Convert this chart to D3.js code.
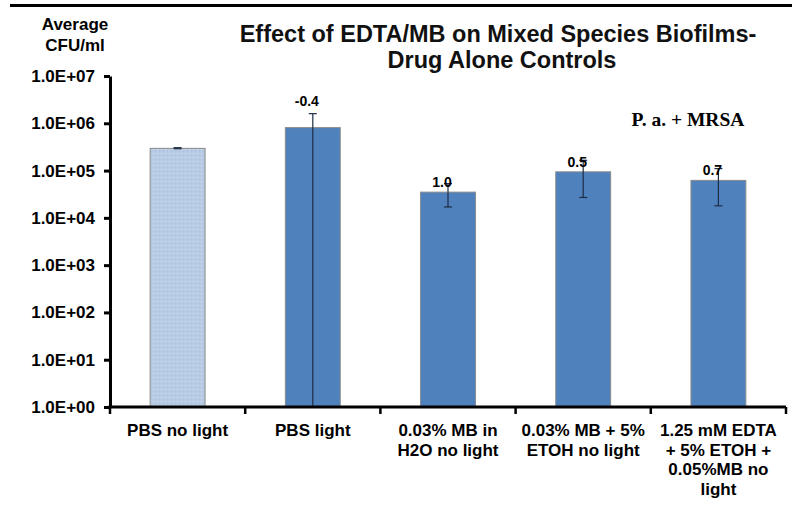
<!DOCTYPE html>
<meta charset="utf-8">
<html lang="en">
<head>
    <title>Effect of EDTA/MB on Mixed Species Biofilms</title>
    <script src="https://d3js.org/d3.v7.min.js"></script>
    <style>
        body {
            margin: 0;
            background-color: #ffffff;
            font-family: "Liberation Sans", Arial, sans-serif;
        }

        .axis path,
        .axis line {
            stroke: #000;
            stroke-width: 3;
        }

        .axis text {
            font: bold 17px "Liberation Sans", Arial, sans-serif;
            fill: #000;
        }
    </style>
</head>
<body>
    <svg width="794" height="531"></svg>
    <script>
        // Data
        var categories = [
            ["PBS no light"],
            ["PBS light"],
            ["0.03% MB in", "H2O no light"],
            ["0.03% MB + 5%", "ETOH no light"],
            ["1.25 mM EDTA", "+ 5% ETOH +", "0.05%MB no", "light"]
        ];
        var means = [2.95e5, 8.1e5, 3.5e4, 9.4e4, 6.2e4];
        var errHigh = [3.05e5, 1.6e6, 5.3e4, 1.65e5, 1.1e5];
        var errLow = [2.9e5, 1, 1.7e4, 2.7e4, 1.8e4];
        var barLabels = ["", "-0.4", "1.0", "0.5", "0.7"];
        var tickValues = [1, 10, 100, 1e3, 1e4, 1e5, 1e6, 1e7];
        var tickLabels = ["1.0E+00", "1.0E+01", "1.0E+02", "1.0E+03", "1.0E+04", "1.0E+05", "1.0E+06", "1.0E+07"];

        var svg = d3.select("svg");

        var plotLeft = 110, plotRight = 786, plotTop = 76, plotBottom = 407;

        // Scales
        var x = d3.scaleBand()
            .domain(d3.range(categories.length))
            .range([plotLeft, plotRight])
            .paddingInner(0.594)
            .paddingOuter(0.297);

        var y = d3.scaleLog()
            .domain([1, 1e7])
            .range([plotBottom, plotTop]);

        function cx(i) { return x(i) + x.bandwidth() / 2; }

        // Dotted pattern for the control bar
        var pat = svg.append("defs").append("pattern")
            .attr("id", "dots")
            .attr("width", 4)
            .attr("height", 4)
            .attr("patternUnits", "userSpaceOnUse");
        pat.append("rect").attr("width", 4).attr("height", 4).attr("fill", "#b7cbe4");
        pat.append("rect").attr("x", 1).attr("y", 1).attr("width", 1).attr("height", 1).attr("fill", "#d3dff0");
        pat.append("rect").attr("x", 3).attr("y", 3).attr("width", 1).attr("height", 1).attr("fill", "#a9c0de");

        // Top border line
        svg.append("line")
            .attr("x1", 10).attr("x2", 792)
            .attr("y1", 5.5).attr("y2", 5.5)
            .attr("stroke", "#000")
            .attr("stroke-width", 3);

        // Title
        var title = svg.append("text")
            .attr("text-anchor", "middle")
            .style("font", "bold 23.5px 'Liberation Sans', Arial, sans-serif")
            .style("fill", "#111");
        title.append("tspan").attr("x", 498).attr("y", 42).text("Effect of EDTA/MB on Mixed Species Biofilms-");
        title.append("tspan").attr("x", 502).attr("y", 68).text("Drug Alone Controls");

        // Y axis title
        var ytitle = svg.append("text")
            .attr("text-anchor", "middle")
            .style("font", "bold 17px 'Liberation Sans', Arial, sans-serif");
        ytitle.append("tspan").attr("x", 75).attr("y", 30).text("Average");
        ytitle.append("tspan").attr("x", 75).attr("y", 51).text("CFU/ml");

        // Organism note
        svg.append("text")
            .attr("x", 688)
            .attr("y", 126)
            .attr("text-anchor", "middle")
            .style("font", "bold 19.5px 'Liberation Serif', 'Times New Roman', serif")
            .text("P. a. + MRSA");

        // Bars
        svg.append("g")
            .selectAll("rect")
            .data(means)
            .enter().append("rect")
            .attr("x", function(d, i) { return x(i); })
            .attr("y", function(d) { return y(d); })
            .attr("width", x.bandwidth())
            .attr("height", function(d) { return plotBottom - y(d); })
            .attr("fill", function(d, i) { return i === 0 ? "url(#dots)" : "#4f81bd"; })
            .attr("stroke", "#8a8a8a")
            .attr("stroke-width", 1);

        // Error bars
        var eb = svg.append("g")
            .attr("stroke", "#1f2d44")
            .attr("stroke-width", 1.2)
            .selectAll("g")
            .data(means.map(function(d, i) { return i; }))
            .enter().append("g");

        eb.append("line")
            .attr("x1", cx).attr("x2", cx)
            .attr("y1", function(i) { return y(errLow[i]); })
            .attr("y2", function(i) { return y(errHigh[i]); });

        eb.append("line")
            .attr("x1", function(i) { return cx(i) - 4; })
            .attr("x2", function(i) { return cx(i) + 4; })
            .attr("y1", function(i) { return y(errHigh[i]); })
            .attr("y2", function(i) { return y(errHigh[i]); });

        eb.filter(function(i) { return errLow[i] > 1; })
            .append("line")
            .attr("x1", function(i) { return cx(i) - 4; })
            .attr("x2", function(i) { return cx(i) + 4; })
            .attr("y1", function(i) { return y(errLow[i]); })
            .attr("y2", function(i) { return y(errLow[i]); });

        // Log reduction labels above bars
        svg.append("g")
            .selectAll("text")
            .data(means)
            .enter().append("text")
            .attr("x", function(d, i) { return cx(i) - 6; })
            .attr("y", function(d, i) {
                var barTop = y(d), cap = y(errHigh[i]);
                return barTop - cap > 12 ? cap - 8 : barTop - 5;
            })
            .attr("text-anchor", "middle")
            .style("font", "bold 14px 'Liberation Sans', Arial, sans-serif")
            .text(function(d, i) { return barLabels[i]; });

        // Y axis
        svg.append("g")
            .attr("class", "axis")
            .attr("transform", "translate(" + plotLeft + ",0)")
            .call(d3.axisLeft(y)
                .tickValues(tickValues)
                .tickFormat(function(d, i) { return tickLabels[i]; })
                .tickSize(6)
                .tickSizeOuter(0)
                .tickPadding(9));

        // X axis with ticks at category boundaries
        var xa = svg.append("g")
            .attr("class", "axis")
            .attr("transform", "translate(0," + plotBottom + ")");
        xa.append("line")
            .attr("x1", plotLeft - 1.5).attr("x2", plotRight)
            .attr("y1", 0).attr("y2", 0);
        xa.selectAll(".bt")
            .data(d3.range(categories.length + 1))
            .enter().append("line")
            .attr("class", "bt")
            .attr("x1", function(d) { return plotLeft + d * x.step(); })
            .attr("x2", function(d) { return plotLeft + d * x.step(); })
            .attr("y1", 0).attr("y2", 7)
            .style("stroke-width", 2.5);

        var xl = xa.selectAll(".cat")
            .data(categories)
            .enter().append("text")
            .attr("class", "cat")
            .attr("text-anchor", "middle");
        xl.selectAll("tspan")
            .data(function(d, i) { return d.map(function(t) { return { t: t, i: i }; }); })
            .enter().append("tspan")
            .attr("x", function(d) { return cx(d.i); })
            .attr("y", function(d, j) { return 29 + j * 19.5; })
            .text(function(d) { return d.t; });
    </script>
</body>
</html>
